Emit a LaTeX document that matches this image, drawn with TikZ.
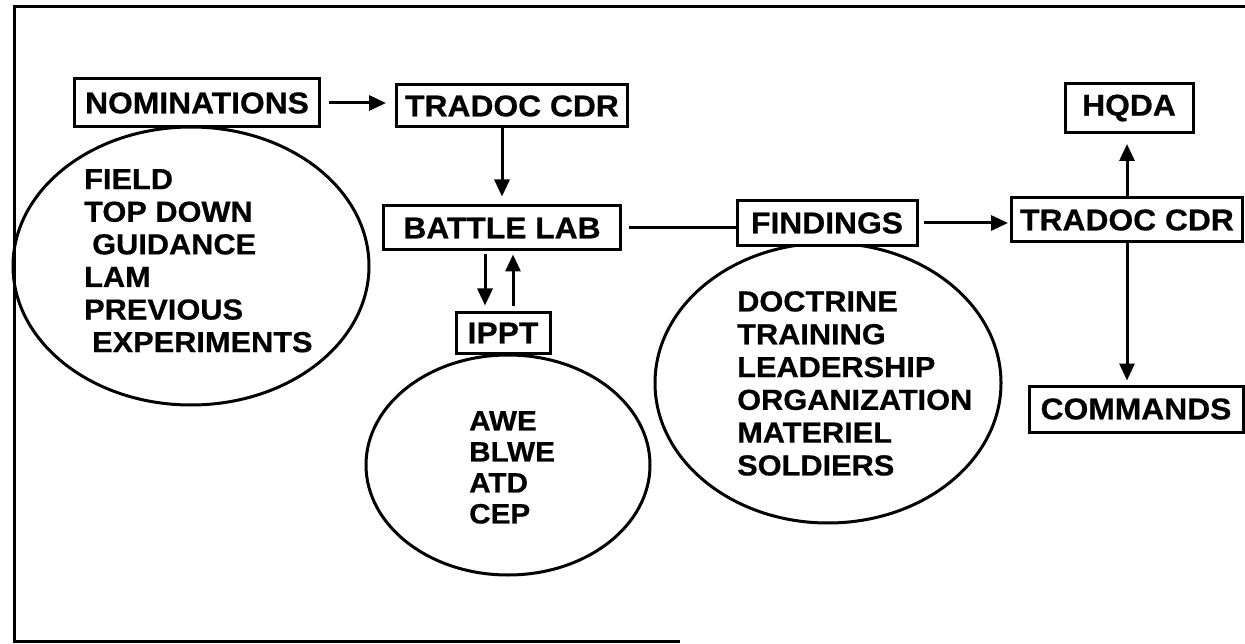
\documentclass[tikz,border=0pt]{standalone}
\usepackage{fontspec}
\setmainfont{Liberation Sans}[FakeStretch=1.06,BoldFeatures={FakeBold=0.6}]
\usetikzlibrary{arrows.meta,shapes.geometric}
\tikzset{
  box/.style={draw, line width=3pt, inner sep=0pt, font=\fontsize{30}{32}\selectfont\bfseries},
  oval/.style={draw, ellipse, line width=3pt, inner sep=0pt},
  list/.style={anchor=north west, inner sep=0pt, align=left},
  arr/.style={line width=3pt, -{Triangle[length=17pt,width=15pt]}},
  plain/.style={line width=3pt},
  frame/.style={line width=3pt}
}
\begin{document}
\begin{tikzpicture}[x=1pt,y=-1pt]
\useasboundingbox[fill=white] (0,0) rectangle (1245,644);
% frame
\draw[frame] (1245,7) -- (14,7) -- (14,641) -- (680,641);
% ellipses
\node[oval, minimum width=356pt, minimum height=278pt] (e1) at (191,266) {};
\node[oval, minimum width=284pt, minimum height=220pt] (e2) at (508,465) {};
\node[oval, minimum width=346pt, minimum height=280pt] (e3) at (828,383) {};
% boxes
\node[box, minimum width=245pt, minimum height=48pt, fill=white] (nom) at (197,103) {NOMINATIONS};
\node[box, minimum width=231pt, minimum height=42pt] (tr1) at (512,106) {TRADOC CDR};
\node[box, minimum width=237pt, minimum height=44pt] (bl) at (502,228) {BATTLE LAB};
\node[box, minimum width=180pt, minimum height=45pt, fill=white] (fin) at (827,223) {FINDINGS};
\node[box, minimum width=231pt, minimum height=44pt] (tr2) at (1127,220) {TRADOC CDR};
\node[box, minimum width=128pt, minimum height=49pt] (hq) at (1129,108) {HQDA};
\node[box, minimum width=214pt, minimum height=46pt] (cmd) at (1136,409) {COMMANDS};
\node[box, minimum width=94pt, minimum height=40pt, fill=white] (ippt) at (503,333) {IPPT};
% lists
\node[list, font=\fontsize{29}{32.6}\selectfont\bfseries] (t1) at (84,169)
  {FIELD\\TOP DOWN\\\hspace*{8pt}GUIDANCE\\LAM\\PREVIOUS\\\hspace*{8pt}EXPERIMENTS};
\node[list, font=\fontsize{28}{31}\selectfont\bfseries] (t2) at (469,411)
  {AWE\\BLWE\\ATD\\CEP};
\node[list, font=\fontsize{29}{32.8}\selectfont\bfseries] (t3) at (737,291)
  {DOCTRINE\\TRAINING\\LEADERSHIP\\ORGANIZATION\\MATERIEL\\SOLDIERS};
% connectors
\draw[arr, shorten <=8pt, shorten >=9pt] (nom.east) -- (nom.east -| tr1.west);
\draw[arr, shorten >=8pt] (bl.north |- tr1.south) -- (bl.north);
\draw[plain, shorten <=7pt] (bl.east) -- (bl.east -| fin.west);
\draw[arr, shorten <=5pt, shorten >=2pt] (fin.east) -- (fin.east -| tr2.west);
\draw[arr, shorten >=10pt] (tr2.north) -- (tr2.north |- hq.south);
\draw[arr, shorten >=4pt] (tr2.south) -- (tr2.south |- cmd.north);
\draw[arr, shorten <=3pt, shorten >=6pt] ([xshift=-18pt]ippt.north |- bl.south) -- ([xshift=-18pt]ippt.north);
\draw[arr, shorten <=5pt, shorten >=3pt] ([xshift=10pt]ippt.north) -- ([xshift=10pt]ippt.north |- bl.south);
\end{tikzpicture}
\end{document}
